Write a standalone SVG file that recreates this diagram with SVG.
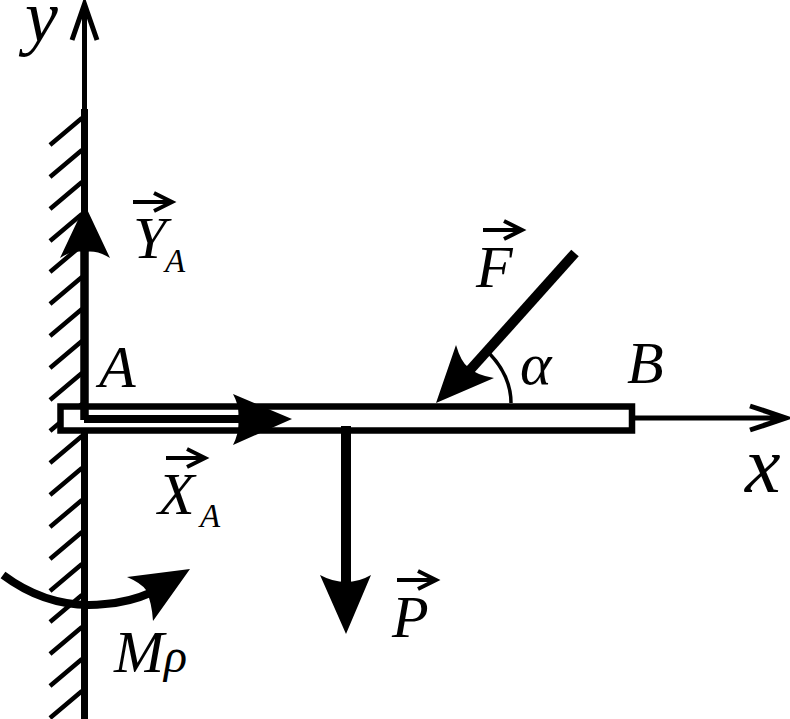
<svg xmlns="http://www.w3.org/2000/svg" width="790" height="719" viewBox="0 0 790 719">
<style>
text{font-family:'Liberation Serif','Times New Roman',serif;font-style:italic;font-size:60px;fill:#000}
.s{font-size:33px}
.r{font-size:48px}
.b{font-size:80px}
.c{font-size:74px}
.v{fill:none;stroke:#000;stroke-width:4}
.h{fill:none;stroke:#000;stroke-width:4.500}
.a{fill:none;stroke:#000;stroke-width:5}
.f{fill:#000;stroke:none}
</style>
<rect width="790" height="719" fill="#fff"/>
<g id="wall">
<path class="h" d="M50 145L82 118M50 177L82 150M50 209L82 182M50 241L82 214M50 272L82 245M50 304L82 277M50 336L82 309M50 368L82 341M50 400L82 373M50 431L82 404M50 463L82 436M50 495L82 468M50 527L82 500M50 559L82 532M50 591L82 564M50 622L82 595M50 654L82 627M50 686L82 659M50 718L82 691"/>
<path d="M84.500 109V719" fill="none" stroke="#000" stroke-width="7"/>
</g>
<g id="beam"><rect x="60.500" y="406.500" width="571.500" height="24" fill="#fff" stroke="#000" stroke-width="6.500"/></g>
<g id="connectors">
<path id="axis-y" class="a" d="M84.500 110V4M72 40L84.500 4L97 40"/>
<path id="axis-x" class="a" d="M635 418H786M750 406L786 418L750 430"/>
<path id="force-Y" d="M84.500 250V420" fill="none" stroke="#000" stroke-width="8.500"/>
<path class="f" d="M85 205L110 258Q97 250 85 252Q72 250 60 258Z"/>
<path id="force-X" d="M84 419H250" fill="none" stroke="#000" stroke-width="8"/>
<path class="f" d="M292 419L233 394Q240 407 238 419Q240 431 233 445Z"/>
<path id="force-F" d="M575 253L470 370" fill="none" stroke="#000" stroke-width="10"/>
<path class="f" d="M436 403L456 345Q461 362 468 367Q476 375 494 378Z"/>
<path id="force-P" d="M346 426V590" fill="none" stroke="#000" stroke-width="10"/>
<path class="f" d="M346 634L320 575Q333 582 346 582Q359 582 371 575Z"/>
<path id="moment" d="M3 575Q50 610 105 604Q130 602 150 593" fill="none" stroke="#000" stroke-width="8"/>
<path class="f" d="M190 569L127 577Q141 583 146 590Q152 603 153 621Z"/>
<path id="angle" d="M489 353Q511 376 511 403" fill="none" stroke="#000" stroke-width="3.500"/>
</g>
<g id="label-y"><text class="c" x="25" y="41">y</text></g>
<g id="label-x"><text class="b" x="745" y="492">x</text></g>
<g id="label-A"><text x="99" y="387">A</text></g>
<g id="label-B"><text x="627" y="383">B</text></g>
<g id="label-alpha"><text x="520" y="384">α</text></g>
<g id="label-YA"><text x="133" y="258">Y</text><text class="s" x="165" y="272">A</text><path class="v" d="M133 202H171M154 193L172 202L154 211"/></g>
<g id="label-XA"><text x="158" y="514">X</text><text class="s" x="200" y="527">A</text><path class="v" d="M166 458H204M187 449L205 458L187 467"/></g>
<g id="label-F"><text x="476" y="287">F</text><path class="v" d="M483 230H521M504 221L522 230L504 239"/></g>
<g id="label-P"><text x="392" y="637">P</text><path class="v" d="M397 580H435M418 571L436 580L418 589"/></g>
<g id="label-M"><text x="114" y="672">M<tspan class="r">ρ</tspan></text></g>
</svg>
